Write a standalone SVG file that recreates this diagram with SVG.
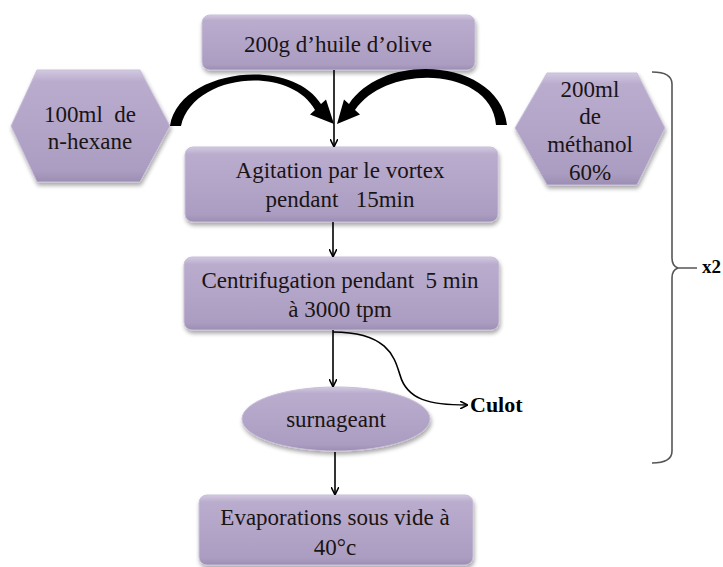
<svg xmlns="http://www.w3.org/2000/svg" width="723" height="567" viewBox="0 0 723 567">
<style>
.t{font-family:"Liberation Serif","Times New Roman",serif;font-size:23px;fill:#1a1414;text-anchor:middle;white-space:pre}
.b{font-family:"Liberation Serif","Times New Roman",serif;font-size:22px;font-weight:bold;fill:#000;white-space:pre}
.shape{fill:url(#g);stroke:#c9bfd8;stroke-width:1;filter:url(#sh)}
.ln{fill:none;stroke:#000;stroke-width:1.6}
</style>
<defs>
<linearGradient id="g" x1="0" y1="0" x2="0" y2="1">
<stop offset="0" stop-color="#d3c9e1"/>
<stop offset="0.1" stop-color="#b9accd"/>
<stop offset="0.5" stop-color="#b3a5c8"/>
<stop offset="0.9" stop-color="#ab9dc1"/>
<stop offset="1" stop-color="#9c8db3"/>
</linearGradient>
<filter id="sh" x="-10%" y="-10%" width="120%" height="130%">
<feGaussianBlur in="SourceAlpha" stdDeviation="2"/>
<feOffset dx="1" dy="3" result="o"/>
<feComponentTransfer><feFuncA type="linear" slope="0.35"/></feComponentTransfer>
<feMerge><feMergeNode/><feMergeNode in="SourceGraphic"/></feMerge>
</filter>
<marker id="ah" viewBox="0 0 10 10" refX="9" refY="5" markerWidth="8" markerHeight="8" markerUnits="userSpaceOnUse" orient="auto">
<path d="M0,0 L10,5 L0,10" fill="none" stroke="#000" stroke-width="2"/>
</marker>
</defs>

<g id="n-huile">
<rect class="shape" x="202" y="15" width="273" height="55" rx="8"/>
<text class="t" x="338" y="52">200g d’huile d’olive</text>
</g>
<g id="n-hexane">
<polygon class="shape" points="11,126 37,70 140,70 170,126 140,182 37,182"/>
<text class="t" x="90" y="122">100ml  de</text>
<text class="t" x="90" y="149">n-hexane</text>
</g>
<g id="n-methanol">
<polygon class="shape" points="515,128 547,73 637,73 665,128 637,185 547,185"/>
<text class="t" x="590" y="97">200ml</text>
<text class="t" x="590" y="124">de</text>
<text class="t" x="590" y="152">méthanol</text>
<text class="t" x="590" y="180">60%</text>
</g>
<g id="n-agitation">
<rect class="shape" x="185" y="147" width="313" height="75" rx="8"/>
<text class="t" x="340" y="178">Agitation par le vortex</text>
<text class="t" x="340" y="207">pendant   15min</text>
</g>
<g id="n-centri">
<rect class="shape" x="184" y="257" width="315" height="73" rx="8"/>
<text class="t" x="340" y="288">Centrifugation pendant  5 min</text>
<text class="t" x="340" y="317">à 3000 tpm</text>
</g>
<g id="n-surnageant">
<ellipse class="shape" cx="336" cy="419" rx="94" ry="32"/>
<text class="t" x="336" y="427">surnageant</text>
</g>
<g id="n-culot">
<text class="b" x="470" y="412">Culot</text>
</g>
<g id="n-evap">
<rect class="shape" x="199" y="495" width="274" height="70" rx="8"/>
<text class="t" x="335" y="525">Evaporations sous vide à</text>
<text class="t" x="335" y="555">40°c</text>
</g>
<g id="n-x2">
<text class="b" x="702" y="273" style="font-size:19px">x2</text>
</g>

<g id="connectors">
<path d="M170,126 C178,70 290,55 321,104 L326,99.5 L334,124 L310,114.5 L315,110 C289,64 193,74 181,126 Z" fill="#000"/>
<path d="M507,125 C500,60 385,50 349,104 L344,99.5 L337,124 L360,114.5 L355,110 C388,62 492,68 496,125 Z" fill="#000"/>
<path class="ln" d="M334,70 L334,146" marker-end="url(#ah)"/>
<path class="ln" d="M333,222 L333,256" marker-end="url(#ah)"/>
<path class="ln" d="M333,330 L333,386" marker-end="url(#ah)"/>
<path class="ln" d="M335,452 L335,494" marker-end="url(#ah)"/>
<path class="ln" d="M333,332 C390,332 395,360 400,375 C407,400 430,405 467,405" marker-end="url(#ah)"/>
<path d="M652,72 Q672,72 672,84 L672,258 Q672,266 678,268 Q672,270 672,278 L672,451 Q672,463 652,463 M678,268 L697,268" fill="none" stroke="#555" stroke-width="1.6"/>
</g>
</svg>
